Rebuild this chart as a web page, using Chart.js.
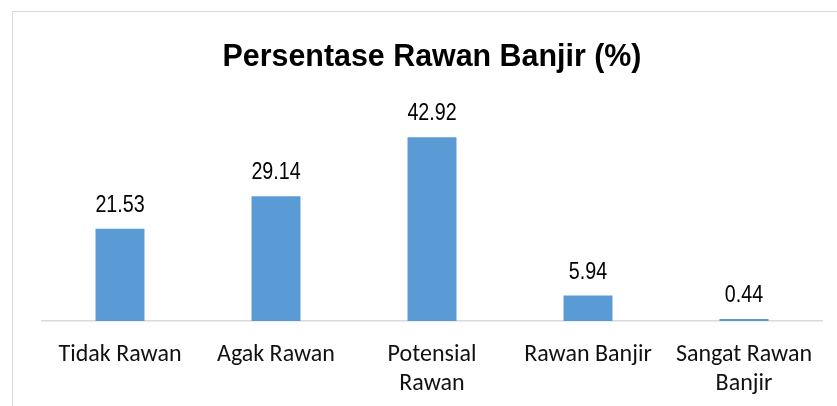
<!DOCTYPE html>
<html>
<head>
<meta charset="utf-8">
<script src="https://cdn.jsdelivr.net/npm/chart.js@4"></script>
<style>
  html, body { margin: 0; padding: 0; background: #fff; }
  #wrap { width: 837px; height: 406px; position: relative; }
</style>
</head>
<body>
<div id="wrap"><canvas id="barChart" width="837" height="406"></canvas></div>
<script>
var categories = [
    ["Tidak Rawan"],
    ["Agak Rawan"],
    ["Potensial", "Rawan"],
    ["Rawan Banjir"],
    ["Sangat Rawan", "Banjir"]
];
var percentages = [21.53, 29.14, 42.92, 5.94, 0.44];
var labelTexts = ["21.53", "29.14", "42.92", "5.94", "0.44"];
var titleText = "Persentase Rawan Banjir (%)";

var sans = "'Liberation Sans', Arial, sans-serif";

// draw text squeezed horizontally (no narrow font installed)
function narrowText(c, text, x, y, squeeze) {
    c.save();
    c.translate(x, y);
    c.scale(squeeze, 1);
    c.fillText(text, 0, 0);
    c.restore();
}

// light grey frame around the chart + the title
var frame = {
    id: "frame",
    beforeDraw: function (chart) {
        var c = chart.ctx;
        c.save();
        c.strokeStyle = "#d9d9d9";
        c.lineWidth = 1;
        c.strokeRect(12.5, 11.5, 900, 500);
        c.fillStyle = "#000";
        c.font = "bold 32px " + sans;
        c.textAlign = "center";
        c.textBaseline = "alphabetic";
        var area = chart.chartArea;
        narrowText(c, titleText, (area.left + area.right) / 2, 66, 0.95);
        c.restore();
    }
};

// value labels above each bar
var valueLabels = {
    id: "valueLabels",
    afterDatasetsDraw: function (chart) {
        var c = chart.ctx;
        var meta = chart.getDatasetMeta(0);
        c.save();
        c.fillStyle = "#000";
        c.font = "24px " + sans;
        c.textAlign = "center";
        c.textBaseline = "alphabetic";
        meta.data.forEach(function (bar, i) {
            narrowText(c, labelTexts[i], bar.x, bar.y - 17, 0.82);
        });
        c.restore();
    }
};

var ctx = document.getElementById("barChart").getContext("2d");
var chart = new Chart(ctx, {
    type: "bar",
    data: {
        labels: categories,
        datasets: [
            {
                label: "Persentase",
                data: percentages,
                backgroundColor: "#5b9bd5",
                borderWidth: 0,
                categoryPercentage: 1,
                barPercentage: 0.314
            }
        ]
    },
    options: {
        responsive: false,
        animation: false,
        layout: {
            padding: { left: 42, right: 15, top: 107, bottom: 0 }
        },
        scales: {
            x: {
                grid: { display: false },
                border: { color: "#d9d9d9", width: 1.5 },
                ticks: {
                    color: "#111",
                    font: { family: "Carlito, Calibri, Lato, sans-serif", size: 24, lineHeight: 1.2 },
                    padding: 12,
                    maxRotation: 0,
                    autoSkip: false
                },
                afterFit: function (scale) {
                    scale.height = 85;
                }
            },
            y: {
                display: false,
                min: 0,
                max: 50
            }
        },
        plugins: {
            legend: { display: false },
            tooltip: { enabled: false },
            title: { display: false }
        }
    },
    plugins: [frame, valueLabels]
});
</script>
</body>
</html>
